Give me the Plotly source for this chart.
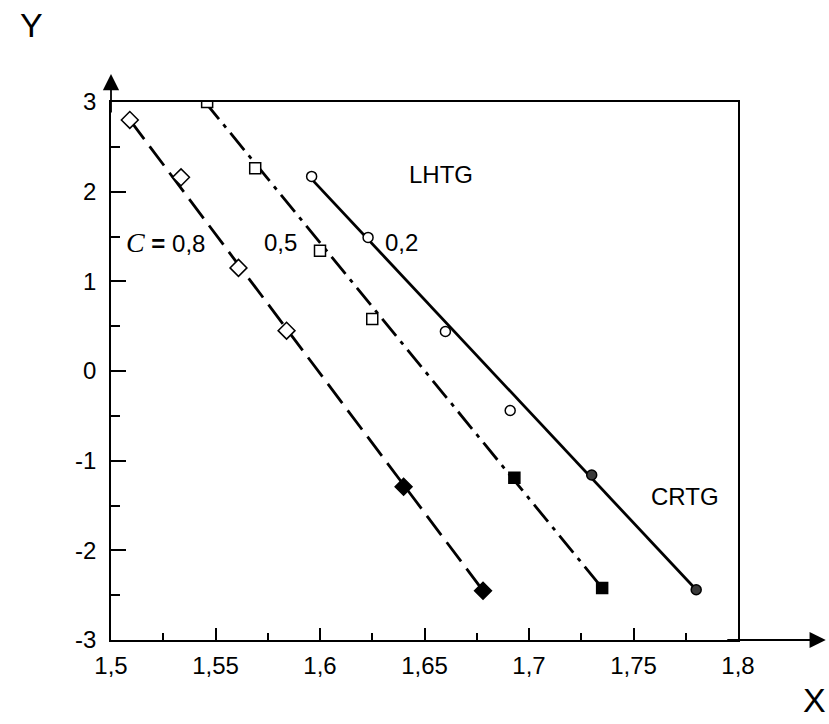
import plotly.graph_objects as go

# Data
x08_open = [1.509, 1.5335, 1.561, 1.584]
y08_open = [2.80, 2.16, 1.15, 0.45]
x08_fill = [1.640, 1.678]
y08_fill = [-1.29, -2.45]

x05_open = [1.546, 1.569, 1.600, 1.625]
y05_open = [3.00, 2.26, 1.34, 0.58]
x05_fill = [1.693, 1.735]
y05_fill = [-1.19, -2.42]

x02_open = [1.596, 1.623, 1.660, 1.691]
y02_open = [2.17, 1.49, 0.44, -0.44]
x02_fill = [1.730, 1.780]
y02_fill = [-1.16, -2.44]

# fitted lines (endpoints)
x08_line = [1.509, 1.678]
y08_line = [2.80, -2.45]
x05_line = [1.545, 1.735]
y05_line = [3.00, -2.42]
x02_line = [1.596, 1.780]
y02_line = [2.14, -2.44]

x_ticks = [1.5, 1.55, 1.6, 1.65, 1.7, 1.75, 1.8]
x_ticktext = ["1,5", "1,55", "1,6", "1,65", "1,7", "1,75", "1,8"]
y_ticks = [-3, -2, -1, 0, 1, 2, 3]
y_ticktext = ["-3", "-2", "-1", "0", "1", "2", "3"]

fig = go.Figure()

lw = 2.8
fig.add_trace(go.Scatter(x=x08_line, y=y08_line, mode="lines",
                         line=dict(color="black", width=lw, dash="24px,9px")))
fig.add_trace(go.Scatter(x=x05_line, y=y05_line, mode="lines",
                         line=dict(color="black", width=lw, dash="22px,7px,4px,7px")))
fig.add_trace(go.Scatter(x=x02_line, y=y02_line, mode="lines",
                         line=dict(color="black", width=lw)))

def mk(xs, ys, sym, size, fill):
    fig.add_trace(go.Scatter(x=xs, y=ys, mode="markers",
                             marker=dict(symbol=sym, size=size, color=fill,
                                         line=dict(color="black", width=1.5))))

mk(x08_open, y08_open, "diamond", 13, "white")
mk(x08_fill, y08_fill, "diamond", 13, "black")
mk(x05_open, y05_open, "square", 11, "white")
mk(x05_fill, y05_fill, "square", 11, "black")
mk(x02_open, y02_open, "circle", 10, "white")
mk(x02_fill, y02_fill, "circle", 10, "#3a3a3a")

font_main = dict(family="Liberation Sans, Arial", size=24, color="black")

W, H = 829, 724
L, T = 111, 102
PW, PH = 627, 538

fig.update_layout(
    width=W, height=H,
    margin=dict(l=L, r=W - L - PW, t=T, b=H - T - PH),
    plot_bgcolor="white", paper_bgcolor="white",
    showlegend=False,
    font=font_main,
    xaxis=dict(range=[1.5, 1.8], tickvals=x_ticks, ticktext=x_ticktext,
               ticks="inside", ticklen=12, tickwidth=1.5, tickcolor="black",
               showline=True, mirror=True, linecolor="black", linewidth=1.8,
               showgrid=False, zeroline=False, ticklabelstandoff=3,
               minor=dict(dtick=0.025, tick0=1.5, ticks="inside", ticklen=7,
                          tickwidth=1.5, tickcolor="black", showgrid=False),
               tickfont=font_main),
    yaxis=dict(range=[-3, 3], tickvals=y_ticks, ticktext=y_ticktext,
               ticks="inside", ticklen=15, tickwidth=1.5, tickcolor="black",
               showline=True, mirror=True, linecolor="black", linewidth=1.8,
               showgrid=False, zeroline=False, ticklabelstandoff=8,
               minor=dict(dtick=0.5, tick0=-3, ticks="inside", ticklen=9,
                          tickwidth=1.5, tickcolor="black", showgrid=False),
               tickfont=font_main),
)

# axis arrows
fig.add_annotation(xref="paper", yref="paper", x=1.14, y=0, ax=-100, ay=0,
                   text="", showarrow=True,
                   arrowhead=2, arrowsize=1.8, arrowwidth=1.8, arrowcolor="black")
fig.add_annotation(xref="paper", yref="paper", x=0, y=1.052, ax=0, ay=40,
                   text="", showarrow=True,
                   arrowhead=2, arrowsize=1.8, arrowwidth=1.8, arrowcolor="black")

fig.add_annotation(xref="paper", yref="paper", x=-0.126, y=1.143, text="Y",
                   xanchor="center", yanchor="middle",
                   showarrow=False, font=dict(family="Liberation Sans, Arial", size=34))
fig.add_annotation(xref="paper", yref="paper", x=1.1228, y=-0.1115, text="X",
                   xanchor="center", yanchor="middle",
                   showarrow=False, font=dict(family="Liberation Sans, Arial", size=34))

fig.add_annotation(x=1.658, y=2.19, text="LHTG", showarrow=False, font=font_main)
fig.add_annotation(x=1.7746, y=-1.405, text="CRTG", showarrow=False, font=font_main)
fig.add_annotation(x=1.5263, y=1.43,
                   text="<span style='font-family:Liberation Serif;font-size:28px'><i>C</i></span> <b>=</b> 0,8",
                   showarrow=False, font=font_main)
fig.add_annotation(x=1.5813, y=1.43, text="0,5", showarrow=False, font=font_main)
fig.add_annotation(x=1.6392, y=1.43, text="0,2", showarrow=False, font=font_main)

fig.write_html("out.html", config={"displayModeBar": False},
               post_script="document.body.style.margin='0px';document.body.style.overflow='hidden';")
